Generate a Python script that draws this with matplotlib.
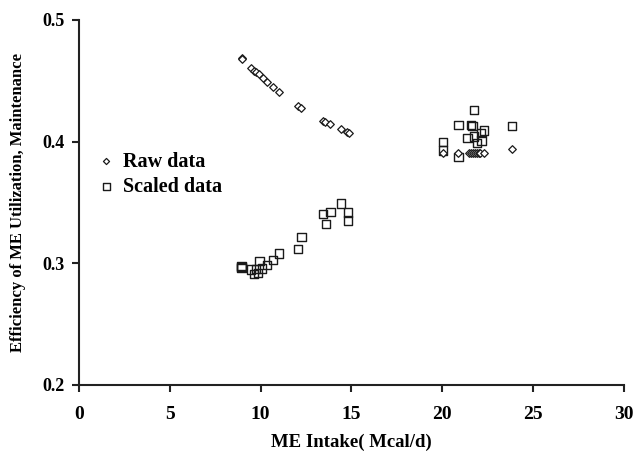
import matplotlib
matplotlib.use("Agg")
import matplotlib.pyplot as plt

# Data
raw_x = [8.95, 8.95, 9.46, 9.64, 9.75, 9.93, 10.13, 10.36, 10.69, 11.03, 12.05, 12.25,
         13.42, 13.55, 13.84, 14.42, 14.78, 14.87,
         20.04, 20.89, 21.5, 21.6, 21.7, 21.8, 21.9, 22.0, 22.1, 22.3, 23.84]
raw_y = [0.469, 0.468, 0.4606, 0.4584, 0.4573, 0.4552, 0.4524, 0.4494, 0.4448, 0.4404, 0.4297, 0.4275,
         0.4169, 0.4161, 0.4141, 0.4103, 0.4076, 0.4070,
         0.3909, 0.3906, 0.3906, 0.3906, 0.3906, 0.3906, 0.3906, 0.3906, 0.3906, 0.3906, 0.3936]

scaled_x = [8.95, 8.95, 8.95, 9.46, 9.62, 9.73, 9.84, 9.93, 10.09, 10.36, 10.69, 11.03,
            12.05, 12.25, 13.42, 13.6, 13.84, 14.42, 14.82, 14.82,
            20.04, 20.04, 20.89, 20.89, 21.4, 21.58, 21.67, 21.76, 21.76, 21.92,
            22.12, 22.17, 22.3, 23.84]
scaled_y = [0.2976, 0.2970, 0.2963, 0.2949, 0.2911, 0.2955, 0.2922, 0.3020, 0.2957, 0.2985, 0.3026, 0.3080,
            0.3119, 0.3217, 0.3408, 0.3321, 0.3419, 0.3491, 0.3417, 0.3351,
            0.3999, 0.3928, 0.4139, 0.3873, 0.4029, 0.4136, 0.4130, 0.4259, 0.4043, 0.3988,
            0.4070, 0.4010, 0.4092, 0.4130]

x_ticks = [0, 5, 10, 15, 20, 25, 30]
y_ticks = [0.2, 0.3, 0.4, 0.5]

plt.rcParams["font.family"] = ["Liberation Serif", "DejaVu Serif"]
plt.rcParams["font.weight"] = "bold"

fig = plt.figure(figsize=(6.34, 4.51), dpi=100)
ax = fig.add_axes([0.1246, 0.1464, 0.8594, 0.8093])

ax.scatter(raw_x, raw_y, marker="D", s=15, facecolors="white", edgecolors="#1a1a1a",
           linewidths=0.9, label="Raw data", zorder=3)
ax.scatter(scaled_x, scaled_y, marker="s", s=36, facecolors="none", edgecolors="#1a1a1a",
           linewidths=1.0, label="Scaled data", zorder=2)

ax.set_xlim(0, 30)
ax.set_ylim(0.2, 0.5)
ax.set_xticks(x_ticks)
ax.set_yticks(y_ticks)
ax.set_xticklabels([str(t) for t in x_ticks], fontsize=14, fontweight="bold")
ax.set_yticklabels([str(t) for t in y_ticks], fontsize=13, fontweight="bold")

for side in ["top", "right"]:
    ax.spines[side].set_visible(False)
for side in ["left", "bottom"]:
    ax.spines[side].set_linewidth(1.5)
    ax.spines[side].set_color("#222222")
ax.tick_params(direction="out", length=5, width=1.5, color="#222222", pad=5)
ax.tick_params(axis="x", pad=10)

ax.set_xlabel("ME Intake( Mcal/d)", fontsize=13.5, fontweight="bold", labelpad=8)
ax.set_ylabel("Efficiency of ME Utilization, Maintenance", fontsize=12, fontweight="bold", labelpad=12)

ax.legend(loc="upper left", bbox_to_anchor=(0.0, 0.672), frameon=False, fontsize=14.5,
          handletextpad=0.1, borderaxespad=0.2, labelspacing=0.25, scatterpoints=1,
          markerscale=0.8, handlelength=1.5)

fig.savefig("out.png", dpi=100)
